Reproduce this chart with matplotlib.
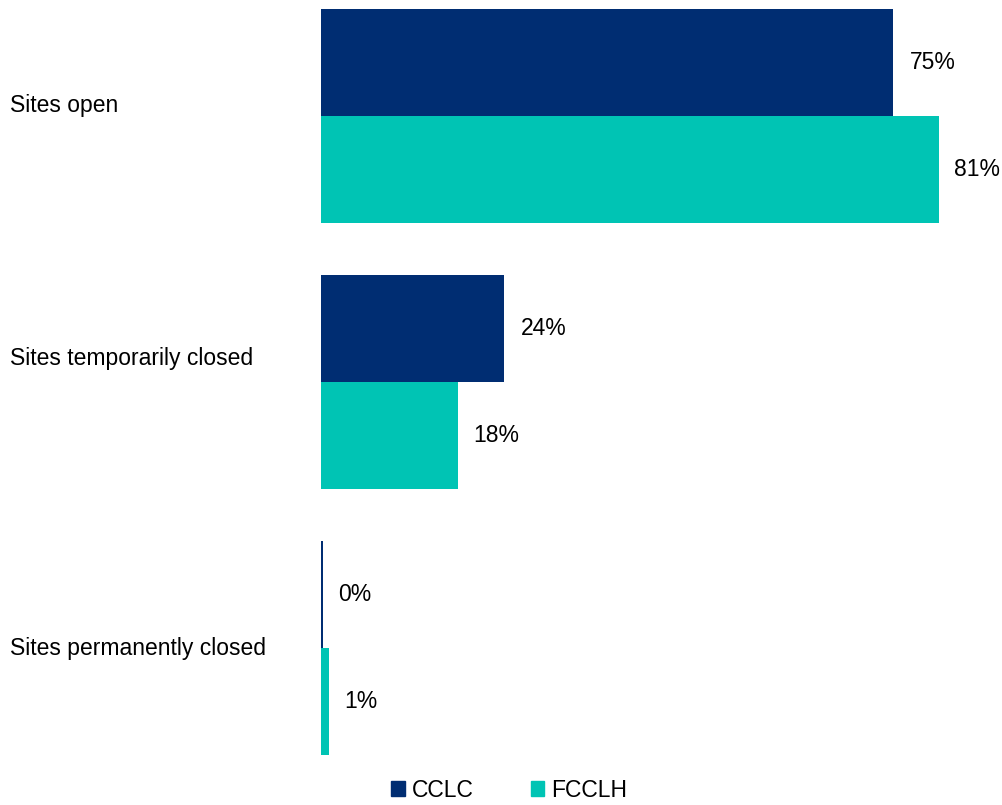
import matplotlib
matplotlib.use("Agg")
import matplotlib.pyplot as plt
from matplotlib.patches import Patch
import matplotlib.transforms as mtransforms

categories = ["Sites open", "Sites temporarily closed", "Sites permanently closed"]
cclc = [75, 24, 0]
fcclh = [81, 18, 1]
series_names = ["CCLC", "FCCLH"]

navy = "#002D72"
teal = "#00C4B4"

plt.rcParams["font.family"] = ["Liberation Sans", "DejaVu Sans"]

fig = plt.figure(figsize=(10.02, 8.05), dpi=100)
ax = fig.add_axes([321 / 1002, 1 - 755 / 805, 648 / 1002, 746 / 805])

h = 0.402
y = list(range(len(categories)))
for i in y:
    # a zero bar still shows as a hairline
    w1 = cclc[i] if cclc[i] > 0 else 0.25
    ax.barh(i - h / 2, w1, height=h, color=navy)
    ax.barh(i + h / 2, fcclh[i], height=h, color=teal)
    ax.text(cclc[i] + 2.2, i - h / 2, f"{cclc[i]}%", va="center", ha="left", fontsize=16.5)
    ax.text(fcclh[i] + 2.0, i + h / 2, f"{fcclh[i]}%", va="center", ha="left", fontsize=16.5)

ax.set_xlim(0, 85)
ax.set_ylim(len(categories) - 1 + h, -h)
ax.axis("off")

trans = mtransforms.blended_transform_factory(fig.transFigure, ax.transData)
label_shift = [-0.04, -0.09, 0.0]
for i, cat in enumerate(categories):
    ax.text(10 / 1002, i + label_shift[i], cat, transform=trans, va="center", ha="left", fontsize=16.5)

handles = [Patch(color=navy), Patch(color=teal)]
fig.legend(handles, series_names, loc="center", bbox_to_anchor=(509 / 1002, 1 - 790 / 805),
           ncol=2, frameon=False, fontsize=16.5, handlelength=0.6, handleheight=0.6,
           handletextpad=0.3, columnspacing=2.5)

fig.savefig("out.png", dpi=100)
